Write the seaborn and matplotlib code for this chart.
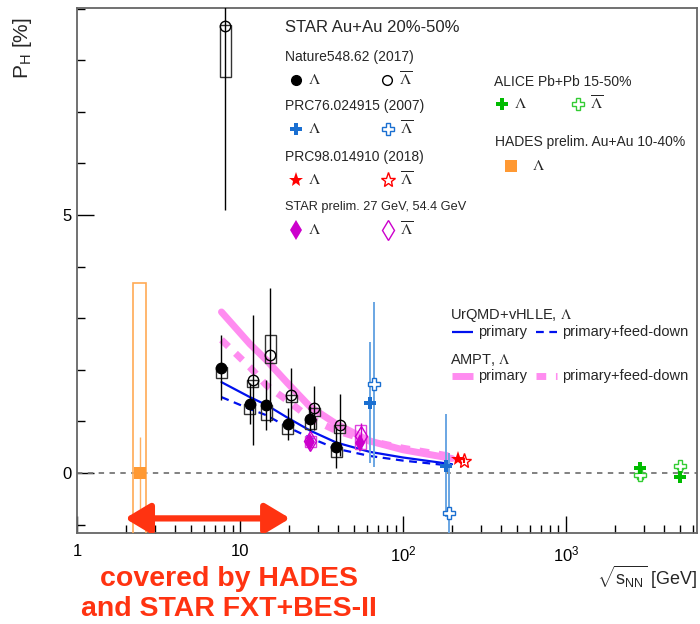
import matplotlib

matplotlib.use('Agg')
import matplotlib.pyplot as plt
import numpy as np
import pandas as pd
import seaborn as sns
from matplotlib.lines import Line2D
from matplotlib.patches import FancyArrowPatch, Rectangle
from matplotlib.ticker import LogLocator, MultipleLocator, NullFormatter

# STAR Nature 548, 62 (2017), BES
bes_energy = [7.7, 11.5, 14.5, 19.6, 27.0, 39.0]
bes_lam = [2.04, 1.34, 1.32, 0.95, 1.05, 0.50]
bes_lam_err = [0.63, 0.40, 0.48, 0.31, 0.24, 0.40]
bes_lam_sys_lo = [1.84, 1.14, 1.03, 0.75, 0.85, 0.31]
bes_lam_sys_hi = [2.05, 1.34, 1.32, 0.95, 1.05, 0.50]
bes_alam_energy = [8.1, 12.0, 15.3, 20.6, 28.5, 41.0]
bes_alam = [8.67, 1.80, 2.29, 1.51, 1.26, 0.93]
bes_alam_err = [3.57, 1.26, 1.30, 0.53, 0.43, 0.60]
bes_alam_sys_lo = [7.67, 1.66, 2.13, 1.38, 1.10, 0.78]
bes_alam_sys_hi = [8.68, 1.80, 2.67, 1.51, 1.26, 0.93]

# STAR PRC76 024915 (2007)
prc76_lam_energy = [63.0, 184.0]
prc76_lam = [1.36, 0.14]
prc76_lam_err = [1.17, 1.00]
prc76_alam_energy = [66.0, 191.0]
prc76_alam = [1.72, -0.78]
prc76_alam_err = [1.60, 1.17]

# STAR PRC98 014910 (2018)
prc98_lam_energy = [217.0]
prc98_lam = [0.28]
prc98_lam_err = [0.04]
prc98_alam_energy = [237.0]
prc98_alam = [0.24]
prc98_alam_err = [0.045]

# STAR preliminary 27 and 54.4 GeV
prel_energy = [27.0, 54.4]
prel_lam = [0.60, 0.58]
prel_lam_err = [0.08, 0.08]
prel_alam_energy = [27.0, 55.0]
prel_alam = [0.62, 0.72]
prel_alam_err = [0.10, 0.25]
prel_alam_sys_lo = [0.50, 0.46]
prel_alam_sys_hi = [0.72, 0.93]

# ALICE Pb+Pb 15-50%
alice_lam_energy = [2850.0, 5020.0]
alice_lam = [0.10, -0.08]
alice_lam_err = [0.08, 0.08]
alice_alam_energy = [2850.0, 5020.0]
alice_alam = [-0.04, 0.14]
alice_alam_err = [0.08, 0.08]

# HADES prelim. Au+Au 10-40%
hades_energy = [2.42]
hades_lam = [0.0]
hades_lam_err = [0.70]
hades_sys_lo = [-1.3]
hades_sys_hi = [3.68]

# model curves
model_energy = [7.7, 11.5, 14.5, 19.6, 27.0, 39.0, 62.4, 100.0, 200.0]
urqmd_primary = [1.76, 1.47, 1.32, 1.07, 0.82, 0.59, 0.41, 0.30, 0.17]
urqmd_feeddown = [1.47, 1.24, 1.12, 0.89, 0.68, 0.47, 0.33, 0.24, 0.14]
ampt_primary = [3.12, 2.50, 2.19, 1.74, 1.28, 0.95, 0.62, 0.45, 0.28]
ampt_feeddown = [2.58, 2.05, 1.70, 1.40, 1.06, 0.82, 0.62, 0.48, 0.32]

# energy range covered by HADES and STAR FXT
arrow_range = [1.97, 20.3]
arrow_level = -0.88

W, H = 700, 624
sns.set_theme(style='ticks')
plt.rcParams['font.family'] = ['Liberation Sans', 'DejaVu Sans']
plt.rcParams['mathtext.fontset'] = 'custom'
plt.rcParams['mathtext.rm'] = 'Liberation Sans'
plt.rcParams['mathtext.it'] = 'Liberation Sans:italic'

fig = plt.figure(figsize=(W / 100, H / 100), dpi=100)
ax = fig.add_axes([77 / W, 1 - 533 / H, 620 / W, 525 / H])
ax.set_xscale('log')
ax.set_xlim(1, 6370)
ax.set_ylim(-1.163, 9.01)

ax.axhline(0, color='#777777', ls=(0, (3, 3)), lw=1.3, zorder=1)

# models
models = pd.DataFrame({
    'energy': model_energy * 4,
    'P': urqmd_primary + urqmd_feeddown + ampt_primary + ampt_feeddown,
    'model': ['UrQMD'] * 18 + ['AMPT'] * 18,
    'kind': (['primary'] * 9 + ['feed-down'] * 9) * 2,
})
sns.lineplot(data=models[models.model == 'AMPT'], x='energy', y='P', style='kind',
             dashes={'primary': '', 'feed-down': (1.4, 1.4)}, color='#ff8cf0', lw=5,
             legend=False, ax=ax, zorder=2)
sns.lineplot(data=models[models.model == 'UrQMD'], x='energy', y='P', style='kind',
             dashes={'primary': '', 'feed-down': (3.5, 2.5)}, color='#0011ee', lw=1.6,
             legend=False, ax=ax, zorder=3)


def sys_boxes(energy, lo, hi, color, half=1.08, lw=1.0):
    for e, a, b in zip(energy, lo, hi):
        ax.add_patch(Rectangle((e / half, a), e * half - e / half, b - a, fill=False,
                               edgecolor=color, lw=lw, zorder=4))


sys_boxes(bes_energy, bes_lam_sys_lo, bes_lam_sys_hi, '#333333')
sys_boxes(bes_alam_energy, bes_alam_sys_lo, bes_alam_sys_hi, '#333333')
sys_boxes(prel_alam_energy, prel_alam_sys_lo, prel_alam_sys_hi, '#dd44dd')
sys_boxes(hades_energy, hades_sys_lo, hades_sys_hi, '#ffaa55', half=1.095, lw=1.2)
sys_boxes(alice_alam_energy, [a - 0.07 for a in alice_alam], alice_alam, '#33cc33', half=1.04)

ax.errorbar(bes_energy, bes_lam, yerr=bes_lam_err, fmt='o', color='black', ms=7.5,
            elinewidth=1, zorder=5)
ax.errorbar(bes_alam_energy, bes_alam, yerr=bes_alam_err, fmt='o', color='black', mfc='none',
            mec='black', mew=1, ms=7.5, elinewidth=1, zorder=5)

ax.errorbar(prc76_lam_energy, prc76_lam, yerr=prc76_lam_err, fmt='P', color='#1a6fd1',
            ecolor='#6aa6e3', ms=9, mew=0, elinewidth=1.4, zorder=5)
ax.errorbar(prc76_alam_energy, prc76_alam, yerr=prc76_alam_err, fmt='P', color='#1a6fd1',
            ecolor='#6aa6e3', mfc='white', mec='#1a6fd1', mew=1, ms=9, elinewidth=1.4, zorder=5)

ax.errorbar(prc98_lam_energy, prc98_lam, yerr=prc98_lam_err, fmt='*', color='#ff0000',
            ms=11, mew=0, zorder=6)
ax.errorbar(prc98_alam_energy, prc98_alam, yerr=prc98_alam_err, fmt='*', color='#ff0000',
            mfc='none', mec='#ff0000', mew=1, ms=11, zorder=6)

ax.errorbar(prel_alam_energy, prel_alam, yerr=prel_alam_err, fmt='d', color='#cc00cc',
            mfc='none', mec='#cc00cc', mew=1, ms=10, elinewidth=1, zorder=6)
ax.errorbar(prel_energy, prel_lam, yerr=prel_lam_err, fmt='d', color='#cc00cc',
            ms=9, mew=0, elinewidth=1, zorder=6)

ax.errorbar(alice_alam_energy, alice_alam, yerr=alice_alam_err, fmt='P', color='#33cc33',
            mfc='white', mec='#33cc33', mew=1, ms=9, elinewidth=1, zorder=6)
ax.errorbar(alice_lam_energy, alice_lam, yerr=alice_lam_err, fmt='P', color='#00bb00',
            ms=9, mew=0, elinewidth=1, zorder=6)

ax.errorbar(hades_energy, hades_lam, yerr=hades_lam_err, fmt='s', color='#ff9933',
            ecolor='#ffb060', ms=8, mew=0, elinewidth=1, zorder=6)

arrow = FancyArrowPatch((arrow_range[0], arrow_level), (arrow_range[1], arrow_level),
                        arrowstyle='<|-|>,head_length=0.75,head_width=0.45', mutation_scale=20,
                        shrinkA=0, shrinkB=0, color='#ff3311', lw=4.5, zorder=7)
ax.add_patch(arrow)

# axes cosmetics
for s in ax.spines.values():
    s.set_color('#666666')
    s.set_linewidth(1.3)
ax.set_xticks([1, 10, 100, 1000], ['1', '10', '$10^2$', '$10^3$'])
ax.xaxis.set_minor_locator(LogLocator(base=10, subs=np.arange(2, 10)))
ax.xaxis.set_minor_formatter(NullFormatter())
ax.yaxis.set_major_locator(MultipleLocator(5))
ax.yaxis.set_minor_locator(MultipleLocator(1))
ax.tick_params(which='both', direction='in', colors='black', labelsize=12)
ax.tick_params(which='major', length=12, width=1)
ax.tick_params(which='minor', length=6, width=1)
ax.tick_params(axis='x', pad=8)
ax.tick_params(axis='y', pad=4)
ax.set_xlabel('')
ax.set_ylabel('')

fig.text(23 / W, 1 - 48 / H, r'P$_{\rm H}$ [%]', rotation=90, ha='center', va='center', fontsize=15)
fig.text(697 / W, 1 - 577 / H, r'$\sqrt{\mathrm{s}_{\mathrm{NN}}}$ [GeV]', ha='right', va='center',
         fontsize=13)
fig.text(229 / W, 1 - 594 / H, 'covered by HADES\nand STAR FXT+BES-II', ha='center', va='center',
         fontsize=20.5, fontweight='bold', color='#ff3311', linespacing=1.2)


# legend blocks
def label(xp, yp, s, size=10, **kw):
    fig.text(xp / W, 1 - yp / H, s, ha='left', va='center', fontsize=size, **kw)


def key(xp, yp, **kw):
    fig.add_artist(Line2D([xp / W], [1 - yp / H], transform=fig.transFigure, ls='none', **kw))


def line_key(x0, x1, yp, **kw):
    fig.add_artist(Line2D([x0 / W, x1 / W], [1 - yp / H, 1 - yp / H], transform=fig.transFigure,
                          solid_capstyle='butt', dash_capstyle='butt', **kw))


LAM = r'$\Lambda$'
ALAM = r'$\overline{\Lambda}$'


def lam_row(yp, x1, x2, lam_dx=12):
    label(x1 + lam_dx, yp, LAM, size=11.5, math_fontfamily='stix')
    label(x2 + lam_dx, yp, ALAM, size=11.5, math_fontfamily='stix')


label(285, 27, 'STAR Au+Au 20%-50%', size=12)
label(285, 57, 'Nature548.62 (2017)')
key(296, 80, marker='o', color='black', ms=7)
key(387, 80, marker='o', mfc='none', mec='black', ms=7)
lam_row(80, 296, 387)

label(285, 106, 'PRC76.024915 (2007)')
key(296, 129, marker='P', color='#1a6fd1', mew=0, ms=9)
key(388, 129, marker='P', mfc='white', mec='#1a6fd1', ms=9)
lam_row(129, 296, 388)

label(285, 157, 'PRC98.014910 (2018)')
key(296, 180, marker='*', color='#ff0000', mew=0, ms=11)
key(388, 180, marker='*', mfc='none', mec='#ff0000', ms=11)
lam_row(180, 296, 388)

label(285, 207, 'STAR prelim. 27 GeV, 54.4 GeV', size=9.2)
key(296, 230, marker='d', color='#cc00cc', mew=0, ms=10)
key(388, 230, marker='d', mfc='none', mec='#cc00cc', ms=10)
lam_row(230, 296, 388)

label(494, 82, 'ALICE Pb+Pb 15-50%')
key(502, 104, marker='P', color='#00bb00', mew=0, ms=9)
key(578, 104, marker='P', mfc='white', mec='#33cc33', ms=9)
lam_row(104, 502, 578)

label(495, 142, 'HADES prelim. Au+Au 10-40%')
key(511, 166, marker='s', color='#ff9933', mew=0, ms=8)
label(532, 166, LAM, size=11.5, math_fontfamily='stix')

label(450, 315, r'UrQMD+vHLLE, $\Lambda$', size=10.5, math_fontfamily='stix')
line_key(452, 473, 332, color='#0011ee', lw=1.6)
label(478, 332, 'primary', size=10.5)
line_key(536, 557, 332, color='#0011ee', lw=1.6, ls=(0, (3.5, 2.5)))
label(562, 332, 'primary+feed-down', size=10.5)

label(450, 360, r'AMPT, $\Lambda$', size=10.5, math_fontfamily='stix')
line_key(452, 473, 376, color='#ff8cf0', lw=5)
label(478, 376, 'primary', size=10.5)
line_key(536, 557, 376, color='#ff8cf0', lw=5, ls=(0, (1.4, 1.4)))
label(562, 376, 'primary+feed-down', size=10.5)

fig.savefig('out.png', dpi=100)
